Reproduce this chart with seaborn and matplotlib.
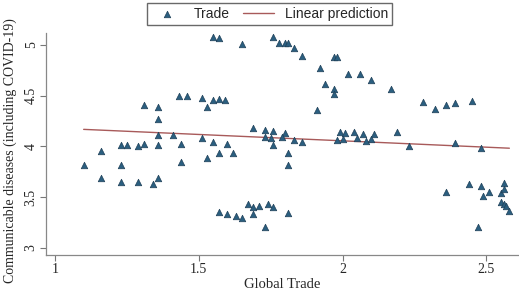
import pandas as pd
import matplotlib.pyplot as plt
import seaborn as sns
import numpy as np

# values
global_trade = [1.10, 1.16, 1.16, 1.23, 1.25, 1.29, 1.31, 1.36, 1.44, 1.44,
                1.23, 1.23, 1.29, 1.34, 1.36, 1.31, 1.36, 1.36, 1.43, 1.46,
                1.51, 1.36, 1.41, 1.51, 1.53, 1.55, 1.57, 1.59, 1.55, 1.60,
                1.53, 1.57, 1.62, 1.55, 1.57, 1.65, 1.57, 1.60, 1.63, 1.65,
                1.67, 1.69, 1.71, 1.69, 1.74, 1.76, 1.73, 1.81, 1.69, 1.73,
                1.76, 1.80, 1.73, 1.75, 1.79, 1.76, 1.83, 1.86, 1.81, 1.81,
                1.76, 1.78, 1.80, 1.81, 1.83, 1.86, 1.92, 1.97, 1.98, 2.02,
                2.06, 2.10, 2.17, 1.94, 1.97, 1.97, 1.91, 2.28, 2.32, 2.36,
                2.39, 2.45, 1.99, 2.01, 2.04, 2.07, 2.11, 1.98, 2.00, 2.05,
                2.08, 2.10, 2.19, 2.23, 2.39, 2.48, 2.36, 2.44, 2.48, 2.49,
                2.51, 2.55, 2.56, 2.56, 2.55, 2.56, 2.57, 2.58, 2.47]
communicable = [3.82, 3.96, 3.69, 4.01, 4.01, 4.00, 4.02, 4.01, 4.02, 3.85,
                3.82, 3.65, 3.65, 3.63, 3.69, 4.41, 4.39, 4.27, 4.50, 4.50,
                4.48, 4.11, 4.11, 4.08, 4.39, 4.46, 4.47, 4.46, 4.04, 4.02,
                3.89, 3.94, 3.94, 5.08, 5.07, 5.01, 3.35, 3.33, 3.31, 3.29,
                3.43, 3.40, 3.41, 3.33, 3.43, 3.40, 3.21, 3.34, 4.18, 4.16,
                4.15, 4.13, 4.09, 4.08, 4.09, 4.01, 4.06, 4.04, 3.94, 3.82,
                5.08, 5.02, 5.02, 5.02, 4.97, 4.89, 4.77, 4.88, 4.88, 4.71,
                4.71, 4.65, 4.57, 4.62, 4.57, 4.52, 4.36, 4.44, 4.37, 4.41,
                4.43, 4.45, 4.14, 4.13, 4.14, 4.12, 4.12, 4.06, 4.07, 4.08,
                4.05, 4.07, 4.14, 4.00, 4.03, 3.98, 3.55, 3.63, 3.61, 3.51,
                3.55, 3.54, 3.64, 3.58, 3.45, 3.43, 3.41, 3.36, 3.21]

df = pd.DataFrame({'trade': global_trade, 'cd': communicable})

sns.set_style('white')
plt.rcParams['font.family'] = ['Liberation Serif', 'DejaVu Serif']

fig = plt.figure(figsize=(5.19, 2.92), dpi=100)
ax = fig.add_axes([0.0886, 0.127, 0.91, 0.76])

sns.scatterplot(x='trade', y='cd', data=df, ax=ax, marker='^', s=22,
                color='#2b5f80', edgecolor='#1f4058', linewidth=0.5,
                label='Trade', zorder=3)
sns.regplot(x='trade', y='cd', data=df, ax=ax, scatter=False, ci=None,
            line_kws={'color': '#a85a5a', 'lw': 1.0}, label='Linear prediction')

ax.set_xlim(0.969, 2.611)
ax.set_ylim(2.931, 5.118)
ax.set_xticks([1, 1.5, 2, 2.5])
ax.set_xticklabels(['1', '1.5', '2', '2.5'])
ax.set_yticks([3, 3.5, 4, 4.5, 5])
ax.set_yticklabels(['3', '3.5', '4', '4.5', '5'], rotation=90, va='center')
ax.tick_params(axis='both', length=4, width=0.8, color='#777777',
               labelsize=10, direction='out', left=True, bottom=True, pad=2)
for s in ['top', 'right']:
    ax.spines[s].set_visible(False)
for s in ['left', 'bottom']:
    ax.spines[s].set_color('#888888')
    ax.spines[s].set_linewidth(0.9)

ax.set_xlabel('Global Trade', fontsize=10.5, labelpad=1)
ax.set_ylabel('Communicable diseases (including COVID-19)', fontsize=10)
ax.yaxis.set_label_coords(-0.062, 0.47)

ax.get_legend().remove()
h, l = ax.get_legend_handles_labels()
fig.legend(h, l, loc='center', bbox_to_anchor=(0.52, 0.952), ncol=2,
           frameon=True, fancybox=False, edgecolor='#444444',
           prop={'family': 'Liberation Sans', 'size': 10},
           handlelength=2.2, columnspacing=1.0, borderpad=0.3)

plt.savefig('out.png', dpi=100)
